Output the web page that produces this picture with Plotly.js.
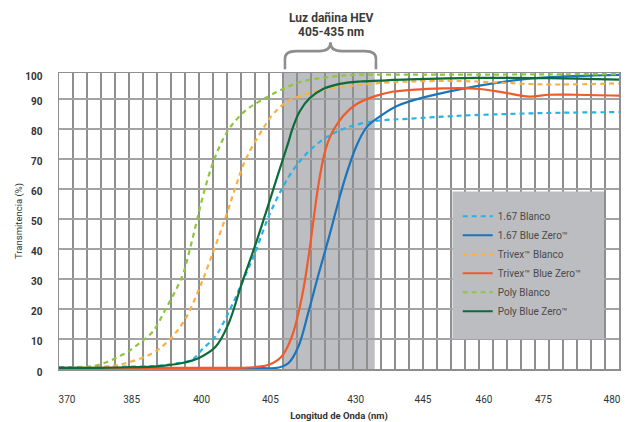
<!DOCTYPE html>
<html>
<head>
<meta charset="utf-8">
<script src="https://cdn.plot.ly/plotly-3.0.1.min.js"></script>
<style>html,body{margin:0;padding:0;background:#fff}#chart{width:626px;height:422px}</style>
</head>
<body>
<div id="chart"></div>
<script>
// x positions are in chart grid units (one vertical grid line per unit, 0..40)
const tickPos  = [0.57, 5.19, 10.19, 15.1, 21.2, 26.0, 30.36, 34.6, 39.5];
const tickText = ['370', '385', '400', '405', '430', '445', '460', '475', '480'];
const hevBand  = [16.0, 22.55];
// y grid: the top line labelled 100 sits a little closer to 90 than the other steps
const yTickVals = [0, 10, 20, 30, 40, 50, 60, 70, 80, 90, 98.64];
const yTickText = ['0', '10', '20', '30', '40', '50', '60', '70', '80', '90', '100'];

const names = ['1.67 Blanco', '1.67 Blue Zero™', 'Trivex™ Blanco', 'Trivex™ Blue Zero™', 'Poly Blanco', 'Poly Blue Zero™'];

const blanco167X = [0, 4, 7, 8.1, 9.5, 10.2, 11.17, 12.1, 13.07, 14.0, 14.98, 15.9, 16.8, 17.9, 19.1, 20.3, 21.5, 22.9, 25, 28.6, 32.2, 35.8, 40];
const blanco167Y = [0.6, 0.8, 1.0, 1.7, 3.1, 6.4, 10.9, 18.7, 28.7, 38.7, 50.9, 59.8, 66.8, 72.8, 77.2, 80.0, 81.7, 82.8, 83.4, 84.4, 85.0, 85.4, 85.6];

const blueZero167X = [0, 10, 14, 15.7, 16.4, 17.1, 17.8, 18.5, 19.3, 20.0, 20.5, 21.26, 21.98, 22.9, 24.1, 26.2, 28.6, 31, 33.4, 35.8, 38.2, 40];
const blueZero167Y = [0.3, 0.3, 0.3, 0.5, 2, 7.5, 18.7, 30.9, 44.2, 56.5, 64.5, 74.5, 80.6, 84.1, 87.6, 90.7, 93.2, 95.2, 96.7, 97.4, 97.8, 98.0];

const trivexBlancoX = [0, 2, 4.1, 6.6, 7.9, 9.0, 9.98, 10.9, 11.9, 12.6, 13.3, 14.36, 15.3, 16.24, 17.67, 19.1, 21, 22.6, 25, 27.8, 29.8, 33.4, 35.8, 40];
const trivexBlancoY = [0.3, 0.4, 1.2, 5.1, 9.8, 16.5, 26.4, 37.6, 50.5, 60.5, 69.5, 78.5, 85.0, 88.9, 91.7, 93.3, 94.4, 95.2, 95.8, 96.0, 95.8, 95.0, 94.8, 95.2];

const trivexBlueZeroX = [0, 10, 13.5, 14.98, 15.9, 16.64, 17.36, 17.83, 18.2, 18.5, 18.85, 19.2, 19.6, 20.31, 21.26, 22.69, 23.8, 25.45, 27.5, 28.6, 30, 31.7, 33.6, 35.0, 36.9, 40];
const trivexBlueZeroY = [0.4, 0.4, 0.5, 1.4, 4.2, 10.9, 24.2, 37.6, 50.4, 60.5, 69.5, 75.5, 79.6, 84.4, 88.3, 91.1, 92.4, 93.1, 93.5, 93.6, 93.3, 92.2, 90.8, 91.4, 91.4, 91.1];

const polyBlancoX = [0, 1.5, 2.7, 4.6, 5.8, 6.7, 7.6, 8.8, 9.3, 9.8, 10.33, 11.1, 12.1, 13.3, 14.36, 15.76, 17.19, 19.1, 21, 22.6, 25.45, 30, 35, 40];
const polyBlancoY = [0.3, 0.6, 1.2, 4.9, 8.8, 12.5, 19.8, 30.9, 39.0, 48.5, 58.5, 70.0, 79.7, 86.0, 89.3, 92.8, 95.6, 97.2, 98.0, 98.1, 98.1, 98.1, 98.2, 98.3];

const polyBlueZeroX = [0, 3, 5, 7, 8.8, 10, 11.2, 12.1, 13.07, 14.0, 14.7, 15.3, 15.76, 16.0, 16.36, 16.71, 17.19, 17.9, 18.86, 20.05, 21.5, 22.9, 25, 30, 35, 40];
const polyBlueZeroY = [0.4, 0.4, 0.6, 0.9, 2, 3.7, 7.5, 15, 28.7, 41, 51, 59.8, 66.5, 70.0, 75.2, 80.5, 85.8, 90.2, 93.3, 95.0, 95.8, 96.1, 96.5, 97.0, 96.9, 96.4];

const colors = ['#25b3e8', '#1b75bc', '#fbb040', '#f15a29', '#8dc63f', '#0b6b3a'];

function tr(i, x, y, dashed) {
  return {
    type: 'scatter', mode: 'lines', name: names[i], x: x, y: y,
    line: {color: colors[i], width: 2.2, shape: 'spline', smoothing: 1, dash: dashed ? '5px,4px' : 'solid'},
    hoverinfo: 'skip'
  };
}

const data = [
  tr(0, blanco167X, blanco167Y, true),
  tr(1, blueZero167X, blueZero167Y, false),
  tr(2, trivexBlancoX, trivexBlancoY, true),
  tr(3, trivexBlueZeroX, trivexBlueZeroY, false),
  tr(4, polyBlancoX, polyBlancoY, true),
  tr(5, polyBlueZeroX, polyBlueZeroY, false)
];

const FONT = 'Roboto, "Open Sans", sans-serif';
const bx0 = hevBand[0] + 0.14, bx1 = hevBand[1] + 0.09, bxc = (bx0 + bx1) / 2;
const yEnd = 1.013, yH = 1.074, yPk = 1.104, rx = 0.8, ry = 0.025;
const bracePath = `M ${bx0},${yEnd} L ${bx0},${yH - ry} Q ${bx0},${yH} ${bx0 + rx},${yH} L ${bxc - rx},${yH} Q ${bxc},${yH} ${bxc},${yPk} Q ${bxc},${yH} ${bxc + rx},${yH} L ${bx1 - rx},${yH} Q ${bx1},${yH} ${bx1},${yH - ry} L ${bx1},${yEnd}`;

const layout = {
  width: 626, height: 422,
  margin: {l: 59, r: 7, t: 73, b: 53},
  paper_bgcolor: '#ffffff', plot_bgcolor: '#ffffff',
  font: {family: FONT, color: '#333333', size: 10},
  showlegend: true,
  legend: {
    x: 0.712, y: 0.565, xanchor: 'left', yanchor: 'top',
    bgcolor: 'rgba(0,0,0,0)', borderwidth: 0,
    font: {family: FONT, size: 10, color: '#4a4a4a'},
    itemclick: false, itemdoubleclick: false
  },
  xaxis: {
    range: [0, 40], showgrid: false, zeroline: false,
    tickmode: 'array', tickvals: tickPos, ticktext: tickText,
    ticks: '', ticklabelstandoff: 20,
    tickfont: {family: FONT, size: 10, color: '#333333'},
    minor: {tickmode: 'linear', tick0: 0, dtick: 1, showgrid: true, gridcolor: '#8f8f8f', gridwidth: 1.2, ticks: ''},
    showline: true, mirror: true, linecolor: '#8f8f8f', linewidth: 1.5,
    title: {text: 'Longitud de Onda (nm)', font: {family: FONT, size: 9.5, color: '#333333', weight: 700}, standoff: 14},
    fixedrange: true
  },
  yaxis: {
    range: [0, 98.64], tickmode: 'array', tickvals: yTickVals, ticktext: yTickText,
    showgrid: true, gridcolor: '#a3a3a3', gridwidth: 1.8, zeroline: false,
    ticks: '', ticklabelstandoff: 13, ticklabelshift: 3,
    tickfont: {family: FONT, size: 10, color: '#333333', weight: 700},
    showline: true, mirror: true, linecolor: '#8f8f8f', linewidth: 1.5,
    title: {text: 'Transmitencia (%)', font: {family: FONT, size: 9.5, color: '#333333'}, standoff: 1},
    fixedrange: true
  },
  shapes: [
    {type: 'rect', xref: 'x', yref: 'paper', x0: hevBand[0], x1: hevBand[1], y0: 0, y1: 1,
     fillcolor: '#bdbec2', line: {width: 0}, layer: 'below'},
    {type: 'path', xref: 'x', yref: 'paper', path: bracePath,
     line: {color: '#8e8e8e', width: 2.6}, fillcolor: 'rgba(0,0,0,0)', layer: 'above'},
    {type: 'rect', xref: 'paper', yref: 'paper', x0: 0.7027, x1: 0.9732, y0: 0.1015, y1: 0.600,
     fillcolor: '#bcbdc0', line: {width: 0}, layer: 'above'}
  ],
  annotations: [
    {xref: 'x', yref: 'paper', x: 19.45, y: 1.185, text: 'Luz dañina HEV', showarrow: false,
     xanchor: 'center', yanchor: 'middle', font: {family: FONT, size: 12, color: '#3a3a3a', weight: 700}},
    {xref: 'x', yref: 'paper', x: 19.45, y: 1.138, text: '405-435 nm', showarrow: false,
     xanchor: 'center', yanchor: 'middle', font: {family: FONT, size: 12, color: '#3a3a3a', weight: 700}}
  ]
};

Plotly.newPlot('chart', data, layout, {displayModeBar: false, staticPlot: true});
</script>
</body>
</html>
